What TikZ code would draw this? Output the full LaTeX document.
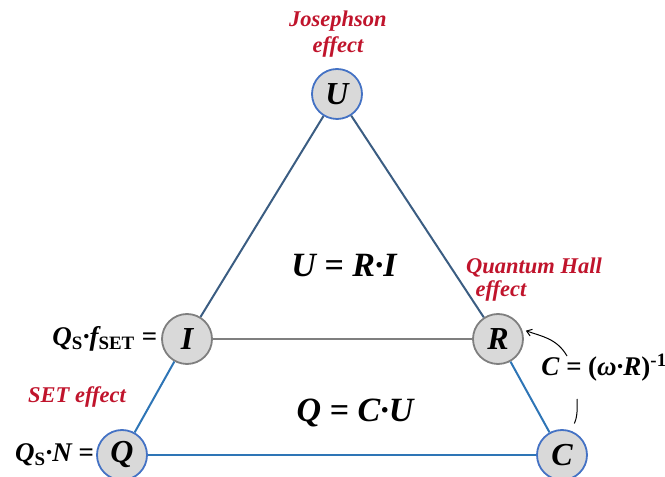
\documentclass[tikz,border=0pt]{standalone}
\usepackage{fontspec}
\setmainfont{Liberation Serif}
\usetikzlibrary{positioning,arrows.meta}
\definecolor{effectred}{HTML}{C0142C}
\definecolor{ringblue}{HTML}{4472C4}
\definecolor{ringgray}{HTML}{7F7F7F}
\definecolor{discfill}{HTML}{D9D9D9}
\definecolor{upperline}{HTML}{3B5D82}
\definecolor{lowerline}{HTML}{2E75B6}
\tikzset{
  qty/.style={circle, fill=discfill, line width=1.8pt, minimum size=50pt, inner sep=0pt, font=\fontsize{32}{34}\selectfont\bfseries\itshape},
  base/.style={qty, draw=ringblue},
  derived/.style={qty, draw=ringgray},
  effect/.style={text=effectred, align=center, inner sep=1pt, font=\fontsize{22.5}{26}\selectfont\bfseries\itshape},
  law/.style={font=\fontsize{34}{36}\selectfont\bfseries\itshape},
  relation/.style={inner sep=1pt, font=\fontsize{27}{30}\selectfont\bfseries\itshape},
  side/.style={line width=2pt},
  hint/.style={line width=1pt, black}
}
\begin{document}
\begin{tikzpicture}[x=1pt, y=1pt]
  \useasboundingbox (0,0) rectangle (665,477);
  % the five quantities
  \node[base] (U) at (337,383) {U};
  \node[derived] (I) at (187,138) {I};
  \node[derived] (R) at (498,138) {R};
  \node[base] (Q) at (122,22) {Q};
  \node[base] (C) at (562,22) {C};
  % triangle sides
  \draw[side, upperline] (U) -- (I);
  \draw[side, upperline] (U) -- (R);
  \draw[side, lowerline] (I) -- (Q);
  \draw[side, lowerline] (R) -- (C);
  \draw[side, lowerline] (Q) -- (C);
  \draw[side, ringgray] (I) -- (R);
  % laws inside
  \node[law] (ohm) at (344,211) {U = R·I};
  \node[law] (cap) at (355,64) {Q = C·U};
  % quantum effects
  \node[effect] (joseph) at (338,443) {Josephson\\effect};
  \node[effect] (qhall) at (534,209) {Quantum Hall};
  \node[effect] (qhalleff) at (501,186) {effect};
  \node[effect] (set) at (77,80) {SET effect};
  % relations beside the nodes
  \node[relation, left=3pt of I] (ilabel) {Q\textsubscript{\upshape S}·f\textsubscript{\upshape SET} =};
  \node[relation, left=1pt of Q] (qlabel) {Q\textsubscript{\upshape S}·N =};
  \node[relation] (crel) at (604,109) {C = {\upshape(}ω·R{\upshape)}\textsuperscript{\upshape -1}};
  \coordinate (arrfoot) at (567,121);
  \coordinate (kink) at (577,78);
  \draw[hint, -{Straight Barb[length=5pt,width=7pt]}, shorten >=4pt] (arrfoot) to[out=120, in=-20] (R.22);
  \draw[hint, shorten >=8pt] (kink) to[bend left=15] (C.70);
\end{tikzpicture}
\end{document}
